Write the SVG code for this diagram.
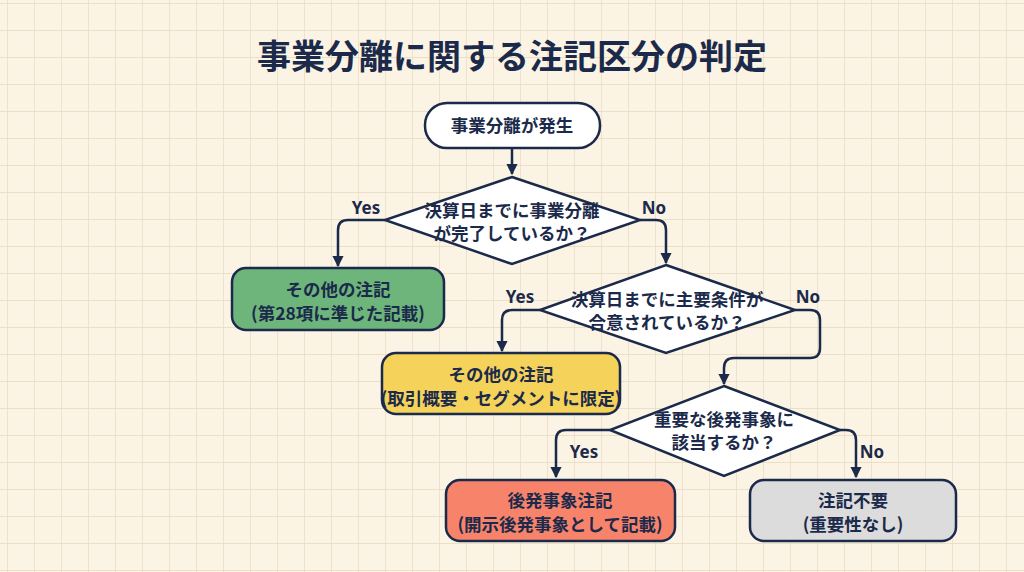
<svg xmlns="http://www.w3.org/2000/svg" width="1024" height="572" viewBox="0 0 1024 572">
<defs>
<pattern id="grid" width="27" height="27" patternUnits="userSpaceOnUse" x="8" y="4">
<path d="M27 0V27M0 27H27" fill="none" stroke="#e6d9c0" stroke-width="1.3"/>
</pattern>
<marker id="ah" viewBox="0 0 10 10" refX="9" refY="5" markerWidth="4.5" markerHeight="4.5" orient="auto">
<path d="M0 0L10 5L0 10z" fill="#1b2a4a"/>
</marker>
<style>
text{font-family:"Noto Sans CJK JP","Noto Sans",sans-serif;font-weight:700;fill:#1b2a4a;text-anchor:middle}
.n{stroke:#1b2a4a;stroke-width:2.5}
.t{font-size:17.5px}
.l{font-size:17px;font-family:"Noto Sans",sans-serif}
.c path{fill:none;stroke:#1b2a4a;stroke-width:2.5;stroke-linejoin:round;marker-end:url(#ah)}
</style>
</defs>
<rect width="1024" height="572" fill="#fbf3e3"/>
<rect width="1024" height="572" fill="url(#grid)"/>
<text x="512" y="69" style="font-size:34px">事業分離に関する注記区分の判定</text>
<g class="c">
<path d="M512 148V174"/>
<path d="M385 220H348Q338 220 338 230V266"/>
<path d="M640 220H656Q666 220 666 230V263"/>
<path d="M540 310H512Q502 310 502 320V351"/>
<path d="M795 310H810Q820 310 820 320V348Q820 358 810 358H734Q724 358 724 368V384"/>
<path d="M610 430H566Q556 430 556 440V477"/>
<path d="M840 430H846Q856 430 856 440V477"/>
</g>
<text class="l" x="366" y="214">Yes</text>
<text class="l" x="654" y="214">No</text>
<text class="l" x="520" y="303">Yes</text>
<text class="l" x="808" y="303">No</text>
<text class="l" x="584" y="458">Yes</text>
<text class="l" x="872" y="458">No</text>
<g id="start"><rect class="n" x="425" y="103" width="175" height="45" rx="22" fill="#fff"/><text class="t" x="512" y="132">事業分離が発生</text></g>
<g id="d1"><path class="n" d="M512 177L640 220L512 264L385 220z" fill="#fff"/><text class="t" x="512" y="217">決算日までに事業分離</text><text class="t" x="512" y="240">が完了しているか？</text></g>
<g id="green"><rect class="n" x="232" y="268" width="212" height="62" rx="14" fill="#6db57b"/><text class="t" x="338" y="296">その他の注記</text><text class="t" x="338" y="320">(第28項に準じた記載)</text></g>
<g id="d2"><path class="n" d="M666 265L795 310L666 353L540 310z" fill="#fff"/><text class="t" x="667" y="306">決算日までに主要条件が</text><text class="t" x="667" y="329">合意されているか？</text></g>
<g id="yellow"><rect class="n" x="382" y="353" width="238" height="61" rx="14" fill="#f5d35a"/><text class="t" x="501" y="381">その他の注記</text><text class="t" x="501" y="405">(取引概要・セグメントに限定)</text></g>
<g id="d3"><path class="n" d="M724 386L840 430L724 476L610 430z" fill="#fff"/><text class="t" x="724" y="426">重要な後発事象に</text><text class="t" x="724" y="449">該当するか？</text></g>
<g id="red"><rect class="n" x="446" y="480" width="229" height="61" rx="14" fill="#f8836b"/><text class="t" x="560" y="507">後発事象注記</text><text class="t" x="560" y="531">(開示後発事象として記載)</text></g>
<g id="gray"><rect class="n" x="750" y="480" width="206" height="61" rx="14" fill="#dcdcdc"/><text class="t" x="853" y="507">注記不要</text><text class="t" x="853" y="531">(重要性なし)</text></g>
</svg>
